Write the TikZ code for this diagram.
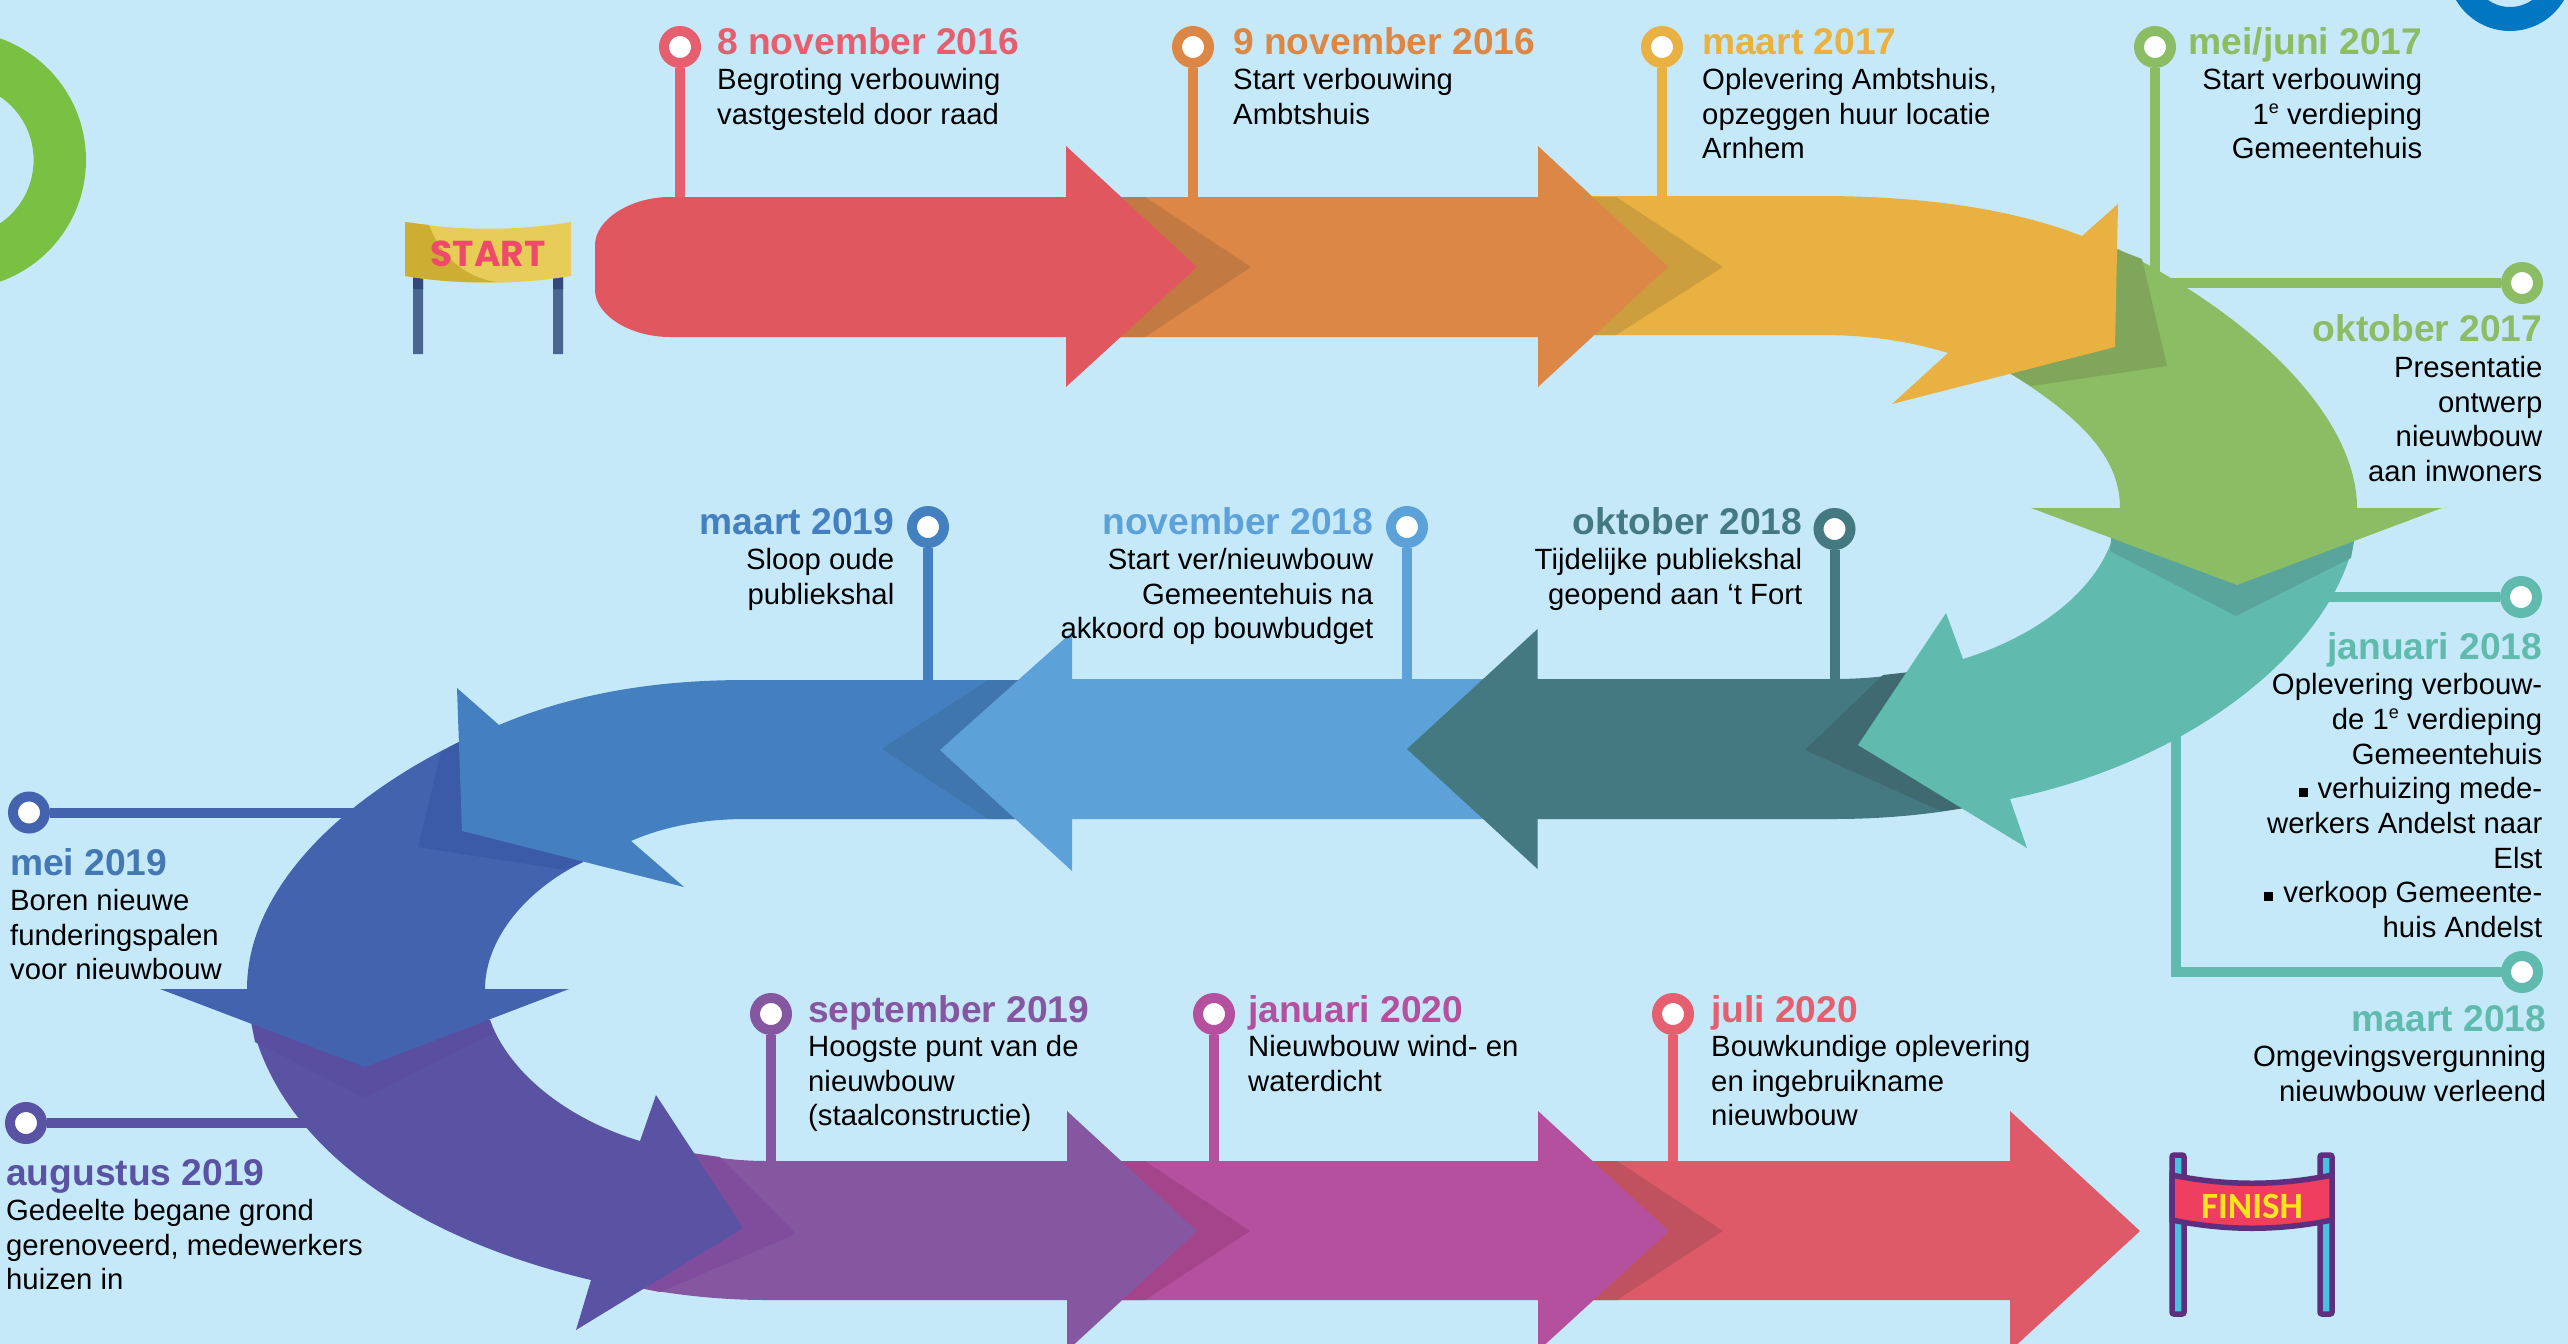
\documentclass[tikz,border=0pt]{standalone}
\usepackage{fontspec}
\setmainfont{Liberation Sans}
\newfontfamily\startfont{Poppins}
\newfontfamily\finishfont{Carlito}
\definecolor{bgc}{HTML}{C6E9FA}
\definecolor{cRed}{HTML}{E15760}
\definecolor{cRedT}{HTML}{E55F6E}
\definecolor{cOra}{HTML}{DC8745}
\definecolor{cYel}{HTML}{E8B142}
\definecolor{cGre}{HTML}{8ABD64}
\definecolor{cTea}{HTML}{60BBAE}
\definecolor{cDte}{HTML}{447981}
\definecolor{cLbl}{HTML}{5DA1D9}
\definecolor{cBlu}{HTML}{447FBF}
\definecolor{cMei}{HTML}{4363AE}
\definecolor{cMeiT}{HTML}{4478B4}
\definecolor{cAug}{HTML}{5A53A3}
\definecolor{cSep}{HTML}{8457A0}
\definecolor{cJan}{HTML}{B5509F}
\definecolor{cJul}{HTML}{DF5A68}
\definecolor{sJul}{RGB}{192,82,95}
\definecolor{sJan}{RGB}{164,69,140}
\definecolor{sSep}{RGB}{128,77,156}
\definecolor{sAug}{RGB}{90,78,160}
\definecolor{sMei}{RGB}{59,90,168}
\definecolor{sBlu}{RGB}{63,118,174}
\definecolor{sDte}{RGB}{63,106,114}
\definecolor{sTea}{RGB}{89,165,156}
\definecolor{sGre}{RGB}{127,166,91}
\definecolor{sYel}{RGB}{205,158,62}
\definecolor{sOra}{RGB}{194,122,66}
\definecolor{ringG}{RGB}{122,193,67}
\definecolor{ringB}{RGB}{0,119,192}
\definecolor{postS}{RGB}{72,102,144}
\definecolor{postD}{RGB}{51,73,122}
\definecolor{banY}{RGB}{231,205,88}
\definecolor{banD}{RGB}{205,174,50}
\definecolor{startT}{RGB}{238,75,106}
\definecolor{finC}{RGB}{69,195,224}
\definecolor{finP}{RGB}{94,47,126}
\definecolor{finR}{RGB}{239,62,96}
\definecolor{finY}{RGB}{249,229,30}
\tikzset{
  pinmark/.style={circle,draw=#1,fill=white,line width=10pt,minimum size=32pt,inner sep=0pt},
  stem/.style={draw=#1,line width=10pt},
  band/.style={fill=#1,draw=none},
  titleL/.style={anchor=base west,yshift=-1.5pt,inner sep=0pt,text=#1,font=\fontsize{37.2}{42}\selectfont\bfseries},
  titleR/.style={anchor=base east,xshift=1.5pt,yshift=-1.5pt,inner sep=0pt,text=#1,font=\fontsize{37.2}{42}\selectfont\bfseries},
  bodyL/.style={anchor=base west,yshift=-1.5pt,inner sep=0pt,align=left,text=black,font=\fontsize{29.3}{34.7}\selectfont},
  bodyR/.style={anchor=base east,xshift=1.5pt,yshift=-1.5pt,inner sep=0pt,align=right,text=black,font=\fontsize{29.3}{34.7}\selectfont},
  finpost/.style={fill=finC,draw=finP,line width=5.5pt,rounded corners=2pt},
}
\newcommand{\sqb}{\raisebox{2pt}{\rule{9pt}{9pt}}\hspace{10pt}}
\newcommand{\supe}{\raisebox{11pt}{\fontsize{18}{18}\selectfont e}}
\begin{document}
\begin{tikzpicture}[x=1pt,y=-1pt]
\useasboundingbox (0,0) rectangle (2568,1344);
\clip (0,0) rectangle (2568,1344);
\fill[bgc] (0,0) rectangle (2568,1344);
% corner rings
\fill[even odd rule,fill=ringG] (-43,160) circle[radius=129] (-43,160) circle[radius=76.6];
\fill[even odd rule,fill=ringB] (2510,-31.5) circle[radius=62.5] (2510,-31.5) circle[radius=38.5];

% end points of the connectors (under the arrows)
\coordinate (e1) at (680,205);
\coordinate (e2) at (1193,205);
\coordinate (e3) at (1662,205);
\coordinate (e4) at (2155,285);
\coordinate (e5) at (2170,283);
\coordinate (e6) at (2320,597);
\coordinate (e7) at (2176,730);
\coordinate (e8) at (1834.5,685);
\coordinate (e9) at (1407,685);
\coordinate (e10) at (928,685);
\coordinate (e11) at (370,812.5);
\coordinate (e12) at (320,1123);
\coordinate (e13) at (771,1167);
\coordinate (e14) at (1214,1167);
\coordinate (e15) at (1673,1167);

% pins
\node[pinmark=cRedT] (p1) at (680,47) {};
\node[pinmark=cOra] (p2) at (1193,47) {};
\node[pinmark=cYel] (p3) at (1662,47) {};
\node[pinmark=cGre] (p4) at (2155,47) {};
\node[pinmark=cGre] (p5) at (2522,283) {};
\node[pinmark=cTea] (p6) at (2521,597) {};
\node[pinmark=cTea] (p7) at (2522,972) {};
\node[pinmark=cDte] (p8) at (1834.5,529) {};
\node[pinmark=cLbl] (p9) at (1407,527) {};
\node[pinmark=cBlu] (p10) at (928,527) {};
\node[pinmark=cMei] (p11) at (29,812.5) {};
\node[pinmark=cAug] (p12) at (26,1123) {};
\node[pinmark=cSep] (p13) at (771,1014) {};
\node[pinmark=cJan] (p14) at (1214,1014) {};
\node[pinmark=cRedT] (p15) at (1673,1014) {};
\draw[stem=cRedT] (p1) -- (e1);
\draw[stem=cOra] (p2) -- (e2);
\draw[stem=cYel] (p3) -- (e3);
\draw[stem=cGre] (p4) -- (e4);
\draw[stem=cGre] (p5) -- (e5);
\draw[stem=cTea] (p6) -- (e6);
\draw[stem=cTea,line cap=rect] (p7) -| (e7);
\draw[stem=cDte] (p8) -- (e8);
\draw[stem=cLbl] (p9) -- (e9);
\draw[stem=cBlu] (p10) -- (e10);
\draw[stem=cMei] (p11) -- (e11);
\draw[stem=cAug] (p12) -- (e12);
\draw[stem=cSep] (p13) -- (e13);
\draw[stem=cJan] (p14) -- (e14);
\draw[stem=cRedT] (p15) -- (e15);

% arrows, last to first
\fill[band=cJul] (1580,1161) -- (2010,1161) -- (2010,1111) -- (2140,1231) -- (2010,1351) -- (2010,1300) -- (1580,1300) -- cycle;
\fill[band=sJul] (1617,1161) -- (1723,1231) -- (1617,1300) -- (1580,1300) -- (1580,1161) -- cycle;

\fill[band=cJan] (1110,1161) -- (1538,1161) -- (1538,1111) -- (1669,1231) -- (1538,1351) -- (1538,1300) -- (1110,1300) -- cycle;
\fill[band=sJan] (1145,1161) -- (1250,1231) -- (1145,1300) -- (1100,1300) -- (1100,1161) -- cycle;

\fill[band=cSep] (685,1152) .. controls (715,1158) and (740,1161) .. (766,1161) -- (1067,1161) -- (1067,1111) -- (1197,1231) -- (1067,1351) -- (1067,1300) -- (766,1300) .. controls (725,1300) and (680,1296) .. (635,1287) -- cycle;
\fill[band=sSep] (720,1157) -- (796,1234) -- (660,1292) -- (635,1287) -- (685,1152) -- cycle;

\fill[band=cAug] (251,1020) .. controls (280,1150) and (420,1240) .. (591,1280) -- (576,1330) -- (743,1228) -- (656,1095) -- (640,1141) .. controls (570,1120) and (510,1075) .. (490,1020) -- cycle;
\fill[band=sAug] (251,1022) -- (255,1042) -- (365,1098) -- (494,1033) -- (490,1020) -- (365,1000) -- cycle;

\fill[band=cMei] (459,742) .. controls (340,800) and (247,890) .. (247,989) -- (160,989) -- (365,1067) -- (569,989) -- (485,989) .. controls (485,940) and (525,890) .. (583,862) -- cycle;
\fill[band=sMei] (459,742) -- (441,752) -- (418,847) -- (565,870) -- (583,862) -- cycle;

\fill[band=cBlu] (1030,680) -- (746,680) .. controls (650,680) and (570,695) .. (499,725) -- (457,688) -- (462,831) -- (684,887) -- (631,841) .. controls (665,826) and (705,819) .. (746,819) -- (1030,819) -- cycle;
\fill[band=sBlu] (988,680) -- (882,749) -- (988,819) -- (1030,819) -- (1030,680) -- cycle;

\fill[band=cLbl] (1490,679) -- (1072,679) -- (1072,632) -- (940,750) -- (1072,871) -- (1072,819) -- (1490,819) -- cycle;

\fill[band=cDte] (1910,672) .. controls (1885,677) and (1860,679) .. (1834,679) -- (1537.5,679) -- (1537.5,629) -- (1407,749) -- (1537.5,869) -- (1537.5,819) -- (1834,819) .. controls (1880,819) and (1925,815) .. (1964,808) -- cycle;
\fill[band=sDte] (1883,675) -- (1805,750) -- (1941,811) -- (1964,808) -- (1910,672) -- cycle;

\fill[band=cTea] (2112,530) -- (2356,530) .. controls (2340,640) and (2200,760) .. (2010,799) -- (2027,848) -- (1858,745) -- (1946,613) -- (1963,659) .. controls (2040,635) and (2095,590) .. (2112,540) -- cycle;
\fill[band=sTea] (2110,551) -- (2236,616) -- (2351,558) -- (2356,530) -- (2112,530) -- cycle;

\fill[band=cGre] (2118,249) .. controls (2260,320) and (2357,420) .. (2357,508) -- (2442,508) -- (2237,585) -- (2031,508) -- (2120,508) .. controls (2120,460) and (2085,420) .. (2011,374) -- cycle;
\fill[band=sGre] (2116,249) -- (2142,259) -- (2167,366) -- (2031,386) -- (2011,374) -- cycle;

\fill[band=cYel] (1580,196) -- (1820,196) .. controls (1920,196) and (2010,208) .. (2082,236) -- (2118,204) -- (2115,347) -- (1892,404) -- (1948,353) .. controls (1905,340) and (1865,335) .. (1820,335) -- (1580,335) -- cycle;
\fill[band=sYel] (1616,197) -- (1723,267) -- (1616,335) -- (1580,335) -- (1580,197) -- cycle;

\fill[band=cOra] (1110,197) -- (1538,197) -- (1538,146) -- (1668,267) -- (1538,387) -- (1538,337) -- (1110,337) -- cycle;
\fill[band=sOra] (1145,197) -- (1251,267) -- (1145,337) -- (1100,337) -- (1100,197) -- cycle;

\fill[band=cRed] (1066,197) -- (670,197) .. controls (630,197) and (595,220) .. (595,245) -- (595,290) .. controls (595,315) and (630,337) .. (670,337) -- (1066,337) -- (1066,387) -- (1197,267) -- (1066,146) -- cycle;

% START banner
\fill[postS] (413,276) rectangle (423,354) (553,276) rectangle (563,354);
\fill[postD] (413,276) rectangle (423,289) (553,276) rectangle (563,289);
\fill[banY] (405,222) .. controls (460,231) and (516,231) .. (571,222) -- (571,276) .. controls (516,285) and (460,285) .. (405,276) -- cycle;
\fill[banD] (405,222) -- (429,225) .. controls (440,255) and (465,278) .. (497,282) .. controls (465,283) and (435,281) .. (405,276) -- cycle;
\node[inner sep=0pt,text=startT,font=\startfont\fontsize{36}{36}\selectfont\bfseries] (startlabel) at (488,254) {START};

% FINISH banner
\draw[finpost] (2172,1155) rectangle (2184,1314);
\draw[finpost] (2320,1155) rectangle (2332,1314);
\draw[fill=finR,draw=finP,line width=5.5pt] (2172,1175) .. controls (2225,1186) and (2279,1186) .. (2332,1175) -- (2332,1220) .. controls (2279,1231) and (2225,1231) .. (2172,1220) -- cycle;
\node[inner sep=0pt,text=finY,font=\finishfont\fontsize{37}{37}\selectfont\bfseries] (finishlabel) at (2252,1206) {FINISH};

% texts (a body node's base is the baseline of its last line)
\node[titleL=cRedT] (t1) at (717,53) {8 november 2016};
\node[bodyL] (b1) at (717,122.7) {Begroting verbouwing\\vastgesteld door raad};
\node[titleL=cOra] (t2) at (1233,53) {9 november 2016};
\node[bodyL] (b2) at (1233,122.7) {Start verbouwing\\Ambtshuis};
\node[titleL=cYel] (t3) at (1702,53) {maart 2017};
\node[bodyL] (b3) at (1702,157.4) {Oplevering Ambtshuis,\\opzeggen huur locatie\\Arnhem};
\node[titleR=cGre] (t4) at (2421,53) {mei/juni 2017};
\node[bodyR] (b4) at (2421,157.4) {Start verbouwing\\1\supe{} verdieping\\Gemeentehuis};
\node[titleR=cGre] (t5) at (2541,340) {oktober 2017};
\node[bodyR] (b5) at (2541,480) {Presentatie\\ontwerp\\nieuwbouw\\aan inwoners};
\node[titleR=cTea] (t6) at (2541,658) {januari 2018};
\node[bodyR] (b6) at (2541,936) {Oplevering verbouw-\\de 1\supe{} verdieping\\Gemeentehuis\\\sqb verhuizing mede-\\werkers Andelst naar\\Elst\\\sqb verkoop Gemeente-\\huis Andelst};
\node[titleR=cTea] (t7) at (2545,1030) {maart 2018};
\node[bodyR] (b7) at (2545,1099.7) {Omgevingsvergunning\\nieuwbouw verleend};
\node[titleR=cDte] (t8) at (1801,533) {oktober 2018};
\node[bodyR] (b8) at (1801,602.7) {Tijdelijke publiekshal\\geopend aan ‘t Fort};
\node[titleR=cLbl] (t9) at (1372,533) {november 2018};
\node[bodyR] (b9) at (1372,637.4) {Start ver/nieuwbouw\\Gemeentehuis na\\akkoord op bouwbudget};
\node[titleR=cBlu] (t10) at (893,533) {maart 2019};
\node[bodyR] (b10) at (893,602.7) {Sloop oude\\publiekshal};
\node[titleL=cMeiT] (t11) at (10,874) {mei 2019};
\node[bodyL] (b11) at (10,978.4) {Boren nieuwe\\funderingspalen\\voor nieuwbouw};
\node[titleL=cAug] (t12) at (6,1184) {augustus 2019};
\node[bodyL] (b12) at (6,1288.4) {Gedeelte begane grond\\gerenoveerd, medewerkers\\huizen in};
\node[titleL=cSep] (t13) at (808,1021) {september 2019};
\node[bodyL] (b13) at (808,1124.4) {Hoogste punt van de\\nieuwbouw\\(staalconstructie)};
\node[titleL=cJan] (t14) at (1248,1021) {januari 2020};
\node[bodyL] (b14) at (1248,1089.7) {Nieuwbouw wind- en\\waterdicht};
\node[titleL=cRedT] (t15) at (1711,1021) {juli 2020};
\node[bodyL] (b15) at (1711,1124.4) {Bouwkundige oplevering\\en ingebruikname\\nieuwbouw};
\end{tikzpicture}
\end{document}
